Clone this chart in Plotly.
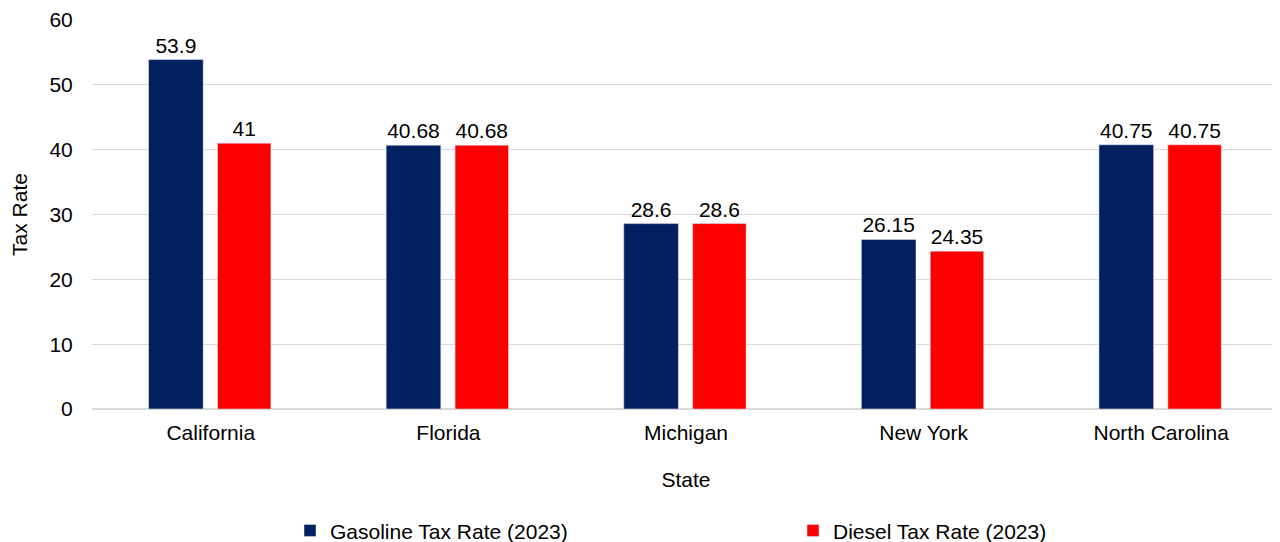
import plotly.graph_objects as go

states = ["California", "Florida", "Michigan", "New York", "North Carolina"]
gasoline = [53.9, 40.68, 28.6, 26.15, 40.75]
diesel = [41, 40.68, 28.6, 24.35, 40.75]
gas_labels = ["53.9", "40.68", "28.6", "26.15", "40.75"]
diesel_labels = ["41", "40.68", "28.6", "24.35", "40.75"]

FONT = "Liberation Sans, Arial, sans-serif"
FS = 21

fig = go.Figure()
fig.add_trace(go.Bar(
    x=states, y=gasoline, name="Gasoline Tax Rate (2023)",
    marker_color="#002060", width=0.23, offset=-0.262,
    text=gas_labels, textposition="outside", cliponaxis=False,
    textfont=dict(size=FS, color="#000000", family=FONT),
))
fig.add_trace(go.Bar(
    x=states, y=diesel, name="Diesel Tax Rate (2023)",
    marker_color="#FF0000", width=0.225, offset=0.028,
    text=diesel_labels, textposition="outside", cliponaxis=False,
    textfont=dict(size=FS, color="#000000", family=FONT),
))

fig.update_layout(
    width=1272, height=534,
    margin=dict(l=84, r=0, t=12, b=133, autoexpand=False),
    plot_bgcolor="white", paper_bgcolor="white",
    font=dict(family=FONT, size=FS, color="#000000"),
    showlegend=True,
    legend=dict(orientation="h", xref="container", yref="container",
                x=0.2217, y=0.021, xanchor="left", yanchor="middle",
                entrywidth=458, entrywidthmode="pixels",
                font=dict(size=FS, family=FONT)),
    xaxis=dict(title=dict(text="State", font=dict(size=FS), standoff=29),
               showgrid=False, showline=False, ticks="outside", ticklen=5,
               tickcolor="rgba(0,0,0,0)", tickfont=dict(size=FS), automargin=False),
    yaxis=dict(title=dict(text="Tax Rate", font=dict(size=FS), standoff=30),
               range=[0, 60], dtick=10, showgrid=True, gridcolor="#d9d9d9",
               gridwidth=1, zeroline=True, zerolinecolor="#d9d9d9", zerolinewidth=2,
               showline=False, ticks="outside", ticklen=14, tickcolor="rgba(0,0,0,0)",
               tickfont=dict(size=FS), automargin=False),
)

fig.write_html("out.html")
